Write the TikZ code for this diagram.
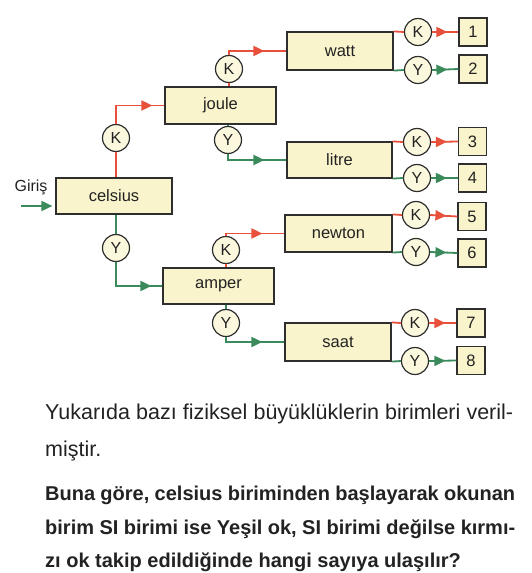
\documentclass[tikz,border=0pt]{standalone}
\usepackage{fontspec}
\setmainfont{Liberation Sans}
\usetikzlibrary{arrows.meta,decorations.markings,calc}
\definecolor{boxfill}{HTML}{FAF4CC}
\definecolor{circfill}{HTML}{FCF8DE}
\definecolor{kred}{HTML}{E8503C}
\definecolor{ygreen}{HTML}{3A8A5C}
\definecolor{edge}{HTML}{2E2E2E}
\definecolor{txt}{HTML}{222222}
\begin{document}
\begin{tikzpicture}[x=1pt,y=-1pt,
  unitbox/.style={draw=edge,fill=boxfill,line width=1.2pt,inner sep=0pt,text=txt,
    font=\fontsize{16.5}{19}\selectfont},
  ring/.style={circle,draw=edge,fill=circfill,line width=1.2pt,inner sep=0pt,
    minimum size=27pt,text=txt,font=\fontsize{16}{19}\selectfont},
  numbox/.style={draw=edge,fill=boxfill,line width=1.2pt,inner sep=0pt,
    minimum size=28pt,text=txt,font=\fontsize{16.5}{19}\selectfont},
  redl/.style={draw=kred,line width=1.8pt},
  grnl/.style={draw=ygreen,line width=1.8pt},
  arrowat/.style={decoration={markings,
    mark=at position #1 with {\arrow{Triangle[length=11pt,width=10pt]}}},
    postaction={decorate}},
  linetext/.style={anchor=base west,inner sep=0pt,text=txt},
]
\useasboundingbox (0,0) rectangle (531,573);

% main unit boxes
\node[unitbox,minimum width=116pt,minimum height=36pt] (celsius) at (114,196) {celsius};
\node[unitbox,minimum width=111pt,minimum height=37pt] (joule) at (220.5,105.5) {joule};
\node[unitbox,minimum width=111pt,minimum height=36pt] (amper) at (218.5,286) {amper};
\node[unitbox,minimum width=106pt,minimum height=38pt] (watt) at (340,51) {watt};
\node[unitbox,minimum width=105pt,minimum height=36pt] (litre) at (339.5,160) {litre};
\node[unitbox,minimum width=107pt,minimum height=37pt] (newton) at (338.5,233.5) {newton};
\node[unitbox,minimum width=106pt,minimum height=38pt] (saat) at (338,342) {saat};

% circles of the left part
\node[ring] (ck) at (116,138) {K};
\node[ring] (cy) at (116,248) {Y};
\node[ring] (jk) at (229,69) {K};
\node[ring] (jy) at (228,140) {Y};
\node[ring] (ak) at (226,250) {K};
\node[ring] (ay) at (226,323) {Y};

% circles of the right part
\node[ring] (wk) at (418,32) {K};
\node[ring] (wy) at (418,70) {Y};
\node[ring] (lk) at (417,142) {K};
\node[ring] (ly) at (417,178) {Y};
\node[ring] (nk) at (416,215) {K};
\node[ring] (ny) at (416,252) {Y};
\node[ring] (sk) at (415,323) {K};
\node[ring] (sy) at (415,361) {Y};

% number boxes
\node[numbox] (n1) at (473,32) {1};
\node[numbox] (n2) at (473,69) {2};
\node[numbox] (n3) at (472.5,141.5) {3};
\node[numbox] (n4) at (472.5,178) {4};
\node[numbox] (n5) at (472,216.5) {5};
\node[numbox] (n6) at (472,253) {6};
\node[numbox] (n7) at (471,323) {7};
\node[numbox] (n8) at (471,360.5) {8};

% input
\node[inner sep=0pt,text=txt,font=\fontsize{16}{19}\selectfont] (giris) at (31,187) {Giriş};
\coordinate (gin) at (21,206);
\draw[grnl,-{Triangle[length=11pt,width=10pt]}] (gin) -- ($(gin -| celsius.west)+(-3,0)$);

% celsius branches
\draw[redl] (ck.south) -- (ck.south |- celsius.north);
\draw[redl,arrowat=-12pt] (ck.north) |- (joule.west);
\draw[grnl] (cy.north) -- (cy.north |- celsius.south);
\draw[grnl,arrowat=-11pt] (cy.south) |- (amper.west);

% joule branches
\draw[redl] (jk.south) -- (jk.south |- joule.north);
\draw[redl,arrowat=-22pt] (jk.north) |- (watt.west);
\draw[grnl] (jy.north) -- (jy.north |- joule.south);
\draw[grnl,arrowat=-22pt] (jy.south) |- (litre.west);

% amper branches
\draw[redl] (ak.south) -- (ak.south |- amper.north);
\draw[redl,arrowat=-22pt] (ak.north) |- (newton.west);
\draw[grnl] (ay.north) -- (ay.north |- amper.south);
\draw[grnl,arrowat=-22pt] (ay.south) |- (saat.west);

% right part
\foreach \b/\k/\y/\p/\q in {watt/wk/wy/n1/n2, litre/lk/ly/n3/n4, newton/nk/ny/n5/n6, saat/sk/sy/n7/n8}{
  \draw[redl] (\b.north east) -- (\k.west);
  \draw[redl,arrowat=-11pt] (\k.east) -- (\p.west);
  \draw[grnl] (\b.south east) -- (\y.west);
  \draw[grnl,arrowat=-11pt] (\y.east) -- (\q.west);
}

% text
\node[linetext,font=\fontsize{21.5}{25}\selectfont] (t1) at (45,419)
  {\makebox[468pt][s]{Yukarıda bazı fiziksel büyüklüklerin birimleri veril-}};
\node[linetext,font=\fontsize{21.5}{25}\selectfont] (t2) at (45,456) {miştir.};
\node[linetext,font=\bfseries\fontsize{20}{25}\selectfont] (t3) at (45,500)
  {\makebox[470pt][s]{Buna göre, celsius biriminden başlayarak okunan}};
\node[linetext,font=\bfseries\fontsize{20}{25}\selectfont] (t4) at (45,534)
  {\makebox[470pt][s]{birim SI birimi ise Yeşil ok, SI birimi değilse kırmı-}};
\node[linetext,font=\bfseries\fontsize{20}{25}\selectfont] (t5) at (45,567)
  {zı ok takip edildiğinde hangi sayıya ulaşılır?};
\end{tikzpicture}
\end{document}
